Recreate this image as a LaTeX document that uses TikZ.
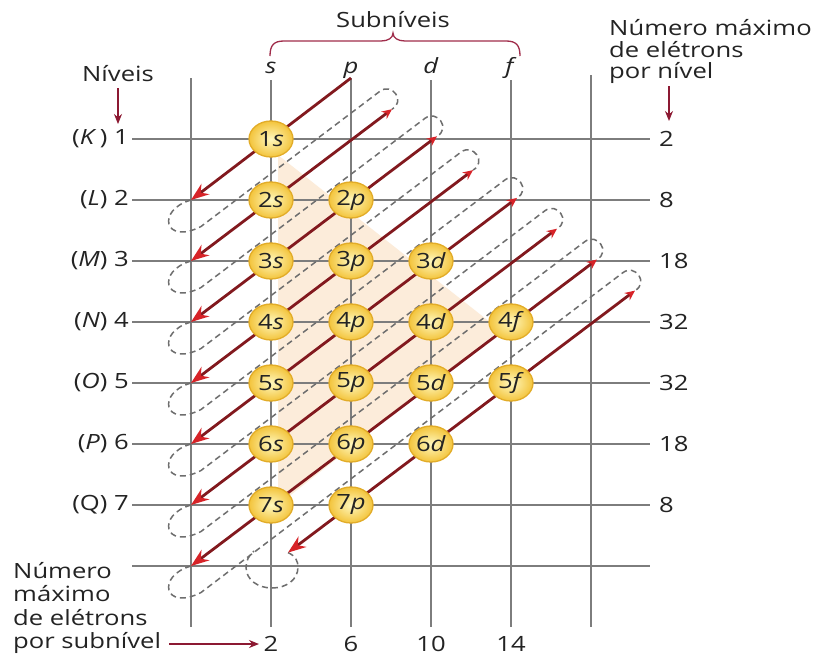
\documentclass[tikz,border=0pt]{standalone}
\usepackage{fontspec}
\setmainfont{Open Sans}[FakeStretch=1.22]
\usetikzlibrary{arrows.meta,shapes.geometric,calc}
\definecolor{gridc}{RGB}{125,125,125}
\definecolor{dashc}{RGB}{110,110,110}
\definecolor{diagc}{RGB}{130,25,30}
\definecolor{tipc}{RGB}{215,35,40}
\definecolor{txtc}{RGB}{35,35,35}
\definecolor{peach}{RGB}{252,236,218}
\definecolor{orbin}{RGB}{255,248,190}
\definecolor{orbout}{RGB}{243,196,60}
\definecolor{orbline}{RGB}{226,172,40}
\definecolor{bracec}{RGB}{160,45,75}
\definecolor{pointc}{RGB}{140,25,50}
\begin{document}
\begin{tikzpicture}[x=1pt,y=-1pt,
  every node/.style={font=\fontsize{21}{23}\selectfont, text=txtc, inner sep=0pt},
  gridline/.style={draw=gridc, line width=1.6pt},
  loopline/.style={draw=dashc, line width=1.5pt, dash pattern=on 6pt off 4pt},
  diagline/.style={draw=diagc, line width=2.8pt},
  bigtip/.style={-{Stealth[length=18pt,width=13pt,color=tipc]}},
  bothtips/.style={{Stealth[length=10pt,width=9pt,color=tipc]}-{Stealth[length=18pt,width=13pt,color=tipc]}},
  orb/.style={ellipse, minimum width=44pt, minimum height=36pt, draw=orbline, line width=1.3pt, inner color=orbin, outer color=orbout},
  pointer/.style={draw=pointc, line width=1.4pt, -{Stealth[length=10pt,width=8pt]}},
]
\useasboundingbox (0,0) rectangle (815,657);
\fill[white] (0,0) rectangle (815,657);
% peach background
\fill[peach] (278,155) -- (500,330) -- (278,505) -- cycle;
% grid
\foreach \x/\t in {191/78,271/80,351/78,431/80,511/80,591/75}
  \draw[gridline] (\x,\t) -- (\x,627);
\foreach \y in {139,200,261,322,383,444,505,566}
  \draw[gridline] (132,\y) -- (650,\y);
% coordinates
\coordinate (T1) at (351,78);
\coordinate (L1) at (191,200);
\coordinate (L2) at (191,261);
\coordinate (L3) at (191,322);
\coordinate (L4) at (191,383);
\coordinate (L5) at (191,444);
\coordinate (L6) at (191,505);
\coordinate (L7) at (191,566);
\coordinate (S2) at (392,109.2);
\coordinate (S3) at (437,136.3);
\coordinate (S4) at (473,170.1);
\coordinate (S5) at (517,197.9);
\coordinate (S6) at (557,228.7);
\coordinate (S7) at (597,259.5);
\coordinate (S8) at (635,290.6);
\coordinate (E8) at (288,552.6);
% dashed return loops
\foreach \k/\kk in {1/2,2/3,3/4,4/5,5/6,6/7,7/8}
  \draw[loopline] (L\k) .. controls +(-35,10) and +(-37,19) .. ++(10,26.5)
     -- ($(S\kk)+(-12,-18)$) .. controls +(12,-9) and +(14,-8) .. (S\kk);
\draw[loopline] (E8) .. controls (296,556) and (298,562) .. (298,567)
   .. controls (298,580) and (286,588) .. (272,588)
   .. controls (258,588) and (246,580) .. (246,567)
   .. controls (246,561) and (249,555) .. (254,551);
% diagonals
\draw[diagline, bigtip] (T1) -- (L1);
\foreach \k in {2,...,7}
  \draw[diagline, bothtips] (S\k) -- (L\k);
\draw[diagline, bothtips] (S8) -- (E8);
% orbitals
\foreach \n/\l/\x/\y in {1/s/271/139, 2/s/271/200, 2/p/351/200,
   3/s/271/261, 3/p/351/261, 3/d/431/261,
   4/s/271/322, 4/p/351/322, 4/d/431/322, 4/f/511/322,
   5/s/271/383, 5/p/351/383, 5/d/431/383, 5/f/511/383,
   6/s/271/444, 6/p/351/444, 6/d/431/444,
   7/s/271/505, 7/p/351/505}
  \node[orb] (o\n\l) at (\x,\y) {\n\textit{\l}};
% header
\node[anchor=base] (subn) at (393,27) {Subníveis};
\draw[draw=bracec, line width=1.3pt] (270,56) .. controls (270,45) and (274,41) .. (284,41)
  -- (381,41) .. controls (388,41) and (393,38) .. (393,33)
  .. controls (393,38) and (398,41) .. (405,41) -- (506,41)
  .. controls (516,41) and (520,45) .. (520,56);
\node[anchor=base] (hs) at (271,73) {\textit{s}};
\node[anchor=base] (hp) at (351,73) {\textit{p}};
\node[anchor=base] (hd) at (431,73) {\textit{d}};
\node[anchor=base] (hf) at (511,73) {\textit{f}};
% levels
\node[anchor=base] (niv) at (118,81) {Níveis};
\coordinate (nivA) at (118,124);
\draw[pointer] ([yshift=-7pt]niv.south) -- (nivA);
\node[anchor=east] (lK) at (129,139) {(\textit{K}\,) 1};
\node[anchor=east] (lL) at (129,200) {(\textit{L}) 2};
\node[anchor=east] (lM) at (129,261) {(\textit{M}) 3};
\node[anchor=east] (lN) at (129,322) {(\textit{N}) 4};
\node[anchor=east] (lO) at (129,383) {(\textit{O}) 5};
\node[anchor=east] (lP) at (129,444) {(\textit{P}) 6};
\node[anchor=east] (lQ) at (129,505) {(Q) 7};
% right header and numbers
\node[anchor=base west] (nm1) at (609,35) {Número máximo};
\node[anchor=base west] (nm2) at (609,57) {de elétrons};
\node[anchor=base west] (nm3) at (609,78) {por nível};
\coordinate (nmS) at (669,86);
\coordinate (nmA) at (669,121);
\draw[pointer] (nmS) -- (nmA);
\node[anchor=west] (r1) at (659,139) {2};
\node[anchor=west] (r2) at (659,200) {8};
\node[anchor=west] (r3) at (659,261) {18};
\node[anchor=west] (r4) at (659,322) {32};
\node[anchor=west] (r5) at (659,383) {32};
\node[anchor=west] (r6) at (659,444) {18};
\node[anchor=west] (r7) at (659,505) {8};
% bottom
\node[anchor=base west] (b1) at (13,578) {Número};
\node[anchor=base west] (b2) at (13,601) {máximo};
\node[anchor=base west] (b3) at (13,625) {de elétrons};
\node[anchor=base west] (b4) at (13,648) {por subnível};
\node[anchor=base] (n2) at (271,651) {2};
\node[anchor=base] (n6) at (351,651) {6};
\node[anchor=base] (n10) at (431,651) {10};
\node[anchor=base] (n14) at (511,651) {14};
\coordinate (bA) at (169,644);
\coordinate (bB) at (259,644);
\draw[pointer] (bA) -- (bB);
\end{tikzpicture}
\end{document}
